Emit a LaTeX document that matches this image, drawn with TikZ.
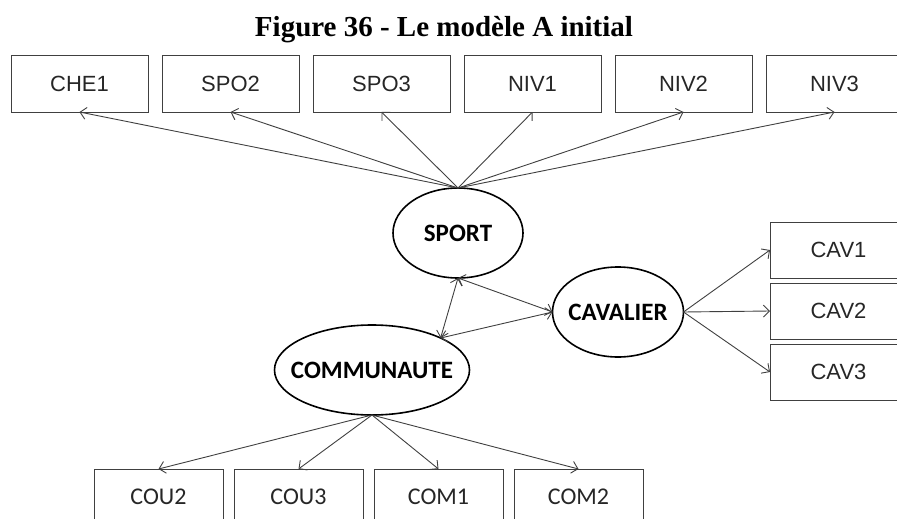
\documentclass[tikz,border=0pt]{standalone}
\usepackage{fontspec}
\setmainfont{Liberation Serif}
\newfontfamily\boxfont{Liberation Sans}
\newfontfamily\ovalfont{Carlito}
\usetikzlibrary{positioning,arrows.meta,shapes.geometric}

\begin{document}
\begin{tikzpicture}[x=1pt, y=-1pt,
  indic/.style={draw=black!75, line width=1pt, minimum width=137pt, minimum height=56pt, inner sep=0pt, outer sep=0pt, text=black!85, font=\boxfont\fontsize{22}{22}\selectfont},
  indicb/.style={indic, minimum width=129pt, font=\ovalfont\fontsize{24}{24}\selectfont},
  latent/.style={ellipse, draw, line width=1.6pt, minimum height=90pt, inner sep=0pt, outer sep=0pt},
  lname/.style={font=\ovalfont\bfseries\fontsize{25}{25}\selectfont},
  load/.style={draw=black!75, line width=0.9pt, -{Straight Barb[length=6pt,width=12pt]}},
  corr/.style={load, {Straight Barb[length=6pt,width=12pt]}-{Straight Barb[length=6pt,width=12pt]}}]

\useasboundingbox (0,0) rectangle (897,519);

% title
\node[anchor=base, font=\bfseries\fontsize{29}{29}\selectfont] (title) at (444,37) {Figure 36 - Le modèle A initial};

% latent variables
\node[latent, minimum width=130pt, label={[lname]center:SPORT}] (sport) at (458,233) {};
\node[latent, minimum width=131pt, label={[lname]center:CAVALIER}] (cav) at (618,312) {};
\node[latent, minimum width=195pt, label={[lname]center:COMMUNAUTE}] (comm) at (372,370) {};

% indicators (top row)
\node[indic] (che1) at (79.5,84) {CHE1};
\node[indic, right=14pt of che1] (spo2) {SPO2};
\node[indic, right=14pt of spo2] (spo3) {SPO3};
\node[indic, right=14pt of spo3] (niv1) {NIV1};
\node[indic, right=14pt of niv1] (niv2) {NIV2};
\node[indic, right=14pt of niv2] (niv3) {NIV3};

% indicators (right column)
\node[indic, anchor=west] (cav1) at (770,250) {CAV1};
\node[indic, below=5pt of cav1] (cav2) {CAV2};
\node[indic, below=5pt of cav2] (cav3) {CAV3};

% indicators (bottom row)
\node[indicb] (cou2) at (158.5,497) {COU2};
\node[indicb, right=11pt of cou2] (cou3) {COU3};
\node[indicb, right=11pt of cou3] (com1) {COM1};
\node[indicb, right=11pt of com1] (com2) {COM2};

% loadings
\draw[load] (sport.north) -- (che1.south);
\draw[load] (sport.north) -- (spo2.south);
\draw[load] (sport.north) -- (spo3.south);
\draw[load] (sport.north) -- (niv1.south);
\draw[load] (sport.north) -- (niv2.south);
\draw[load] (sport.north) -- (niv3.south);
\draw[load] (cav.east) -- (cav1.west);
\draw[load] (cav.east) -- (cav2.west);
\draw[load] (cav.east) -- (cav3.west);
\draw[load] (comm.south) -- (cou2.north);
\draw[load] (comm.south) -- (cou3.north);
\draw[load] (comm.south) -- (com1.north);
\draw[load] (comm.south) -- (com2.north);

% covariances
\draw[corr] (sport.south) -- (comm.25);
\draw[corr] (sport.south) -- (cav.west);
\draw[corr] (comm.25) -- (cav.west);

\end{tikzpicture}
\end{document}
